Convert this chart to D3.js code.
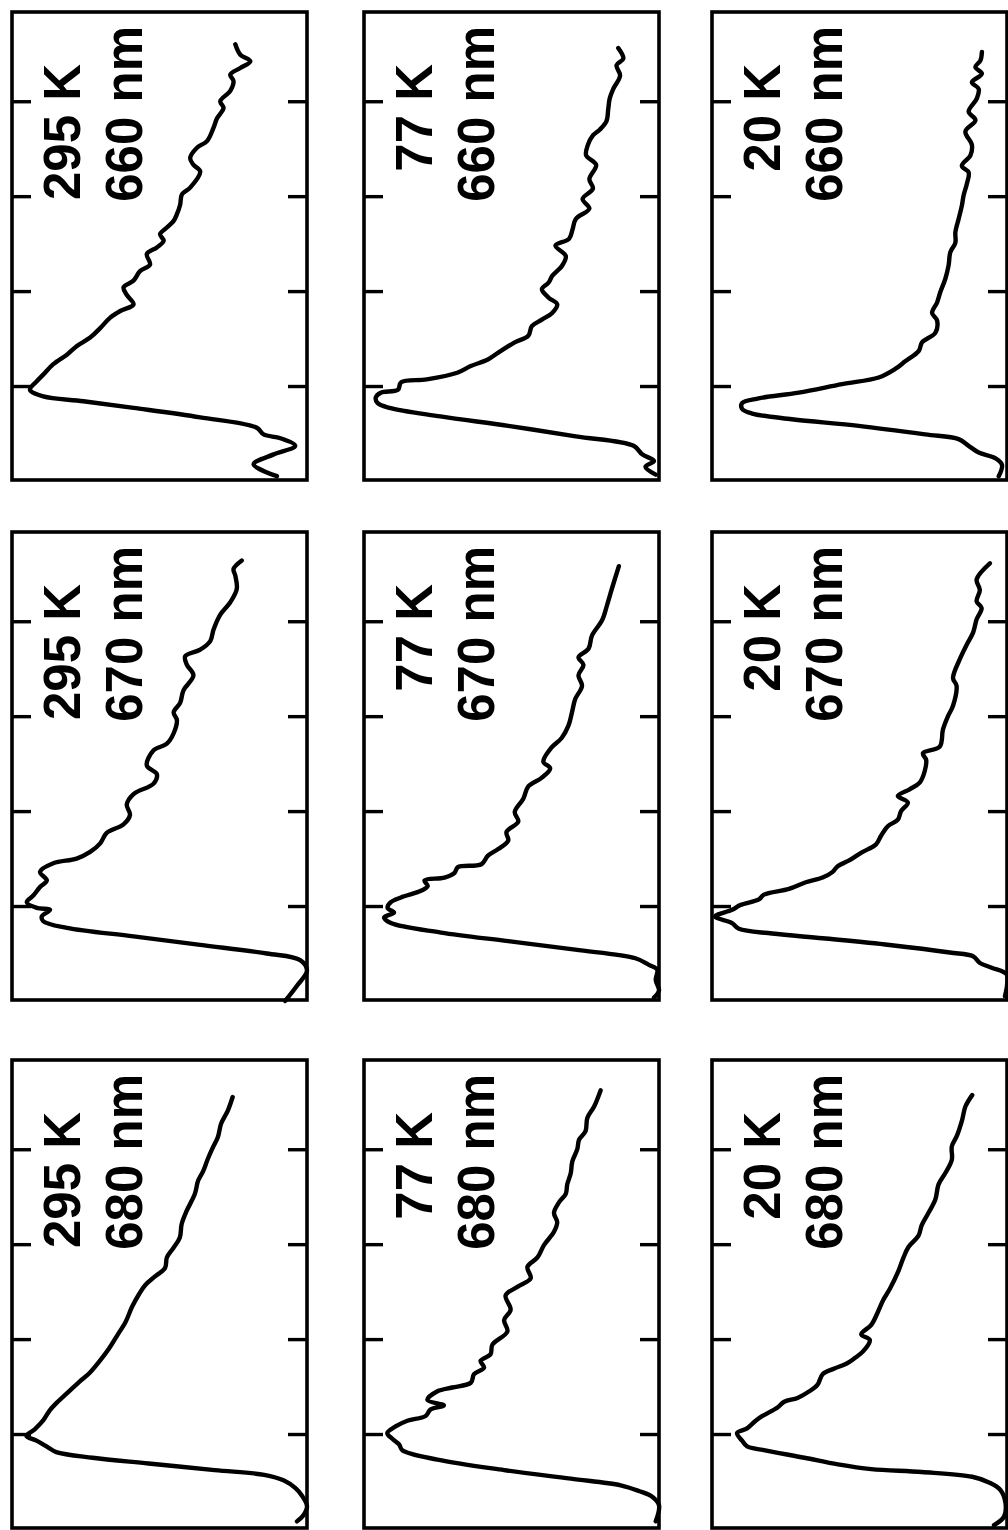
<!DOCTYPE html>
<html>
<head>
<meta charset="utf-8">
<script src="https://cdn.jsdelivr.net/npm/d3@7"></script>
<style>
	body { margin: 0; background: #fff; }
	svg { display: block; }
	.label { font-family: "Liberation Sans", Arial, sans-serif; font-weight: bold; font-size: 51px; }
</style>
</head>
<body>
<div id="vis"></div>
<script>
const width = 1008;
const height = 1530;

// columns = temperature, rows = detection wavelength
const temps = ["295 K", "77 K", "20 K"];
const waves = ["660 nm", "670 nm", "680 nm"];
const tickValues = [10, 20, 30, 40];

// traces: [time, intensity %]
const trace_295_660 = [[0.5,10.2],[1.75,18.1],[2.8,11.3],[3.7,4.0],[4.5,9.0],[4.9,14.7],[5.6,17.0],[6.7,36.2],[7.7,58.8],[8.4,75.8],[8.9,89.4],[9.6,93.9],[10.5,91.6],[11.2,89.4],[12.3,86.0],[13.3,81.4],[14.2,78.1],[15.1,73.5],[16.1,70.1],[17.2,66.7],[17.9,63.3],[18.6,58.8],[19.6,61.1],[20.4,62.2],[21.1,58.8],[22.1,56.6],[22.8,53.2],[23.9,54.3],[24.6,50.9],[25.3,48.6],[26.0,49.8],[26.7,47.5],[27.4,45.2],[28.1,44.1],[29.1,43.0],[30.2,42.4],[30.9,39.6],[32.6,36.2],[33.3,38.5],[34.0,39.6],[35.1,37.3],[35.8,33.9],[37.2,31.7],[38.2,30.5],[39.3,28.3],[40.0,29.4],[41.1,26.0],[42.1,24.9],[42.8,26.0],[43.5,22.6],[44.2,19.2],[44.9,22.6],[46.0,24.3]];
const trace_77_660 = [[0.67,1.1],[1.5,4.6],[2.1,1.7],[2.8,5.7],[3.7,8.6],[4.7,28.2],[5.8,51.1],[6.8,74.1],[7.7,91.4],[8.2,95.4],[8.8,96.0],[9.3,94.3],[9.6,88.5],[10.4,87.4],[10.7,78.7],[11.4,68.4],[12.1,63.8],[12.8,58.0],[13.5,54.6],[14.6,48.9],[15.3,44.3],[16.3,43.1],[17.0,39.7],[17.7,36.2],[18.6,34.5],[19.3,37.4],[20.2,39.7],[20.9,37.4],[21.6,36.2],[22.7,32.8],[23.7,31.6],[24.8,35.1],[25.5,30.5],[26.5,29.3],[27.6,28.2],[28.7,23.6],[29.7,25.9],[30.8,22.4],[31.8,23.6],[33.3,21.3],[34.3,24.7],[35.4,24.1],[36.4,22.4],[37.0,20.1],[37.9,17.8],[39.2,17.2],[40.3,16.7],[41.3,15.5],[42.7,13.2],[43.8,14.4],[44.5,12.1],[45.6,13.8]];
const trace_20_660 = [[0.5,2.8],[1.7,1.7],[2.4,4.0],[3.0,9.6],[3.7,13.0],[4.4,16.4],[4.9,27.7],[5.8,50.3],[6.5,72.9],[7.1,86.4],[7.6,89.8],[8.2,89.8],[8.7,84.2],[9.3,70.6],[10.2,55.9],[10.9,43.5],[11.8,37.9],[12.6,34.5],[13.7,29.9],[14.6,28.8],[15.6,24.3],[16.9,23.7],[17.7,25.4],[18.8,23.7],[19.9,22.6],[21.3,20.9],[22.7,19.8],[24.1,19.2],[25.1,17.5],[26.2,17.5],[27.6,16.4],[29.0,15.3],[30.1,14.7],[31.3,13.6],[32.5,13.0],[33.2,15.3],[34.3,12.4],[35.4,11.9],[36.8,14.1],[38.0,10.7],[38.9,13.0],[40.3,10.2],[41.3,9.6],[42.0,11.9],[42.9,8.5],[43.6,10.7],[44.3,9.0],[45.2,8.5]];
const trace_295_670 = [[0.0,7.4],[1.6,3.4],[3.2,0.0],[4.3,2.3],[5.0,13.6],[5.9,36.2],[6.8,58.8],[7.7,81.4],[8.4,89.4],[8.9,89.9],[9.6,87.1],[9.8,91.6],[10.4,95.0],[11.1,92.8],[12.0,90.5],[12.7,88.2],[13.6,90.5],[14.5,86.0],[15.0,78.1],[15.7,73.5],[16.6,70.1],[17.7,67.9],[18.6,62.2],[19.6,60.0],[20.7,61.1],[21.8,58.8],[22.9,52.0],[23.9,50.9],[24.8,54.3],[26.4,52.0],[27.1,47.5],[28.2,45.2],[29.6,44.1],[30.4,45.2],[31.4,43.0],[32.7,41.9],[34.3,38.5],[35.4,40.7],[36.3,41.3],[37.0,36.2],[37.9,32.8],[39.1,31.7],[40.7,29.4],[42.0,26.0],[43.4,23.8],[44.8,24.3],[45.5,24.9],[46.4,22.1]];
const trace_77_670 = [[0.35,1.7],[1.1,0.0],[2.2,1.1],[3.3,0.6],[3.8,3.4],[4.5,8.0],[5.4,28.4],[6.3,51.1],[7.2,73.9],[8.2,90.9],[8.8,93.2],[9.3,89.8],[9.8,92.0],[10.4,90.9],[10.9,87.5],[11.6,80.7],[12.1,78.4],[12.7,79.5],[13.0,72.7],[13.5,69.3],[14.1,68.2],[14.4,60.2],[15.3,58.0],[16.0,54.5],[16.9,51.1],[17.8,51.7],[18.9,47.7],[19.9,48.9],[21.3,46.0],[22.6,44.3],[23.5,39.8],[24.5,36.9],[25.2,39.2],[26.7,36.4],[27.7,33.0],[29.0,30.7],[30.4,29.5],[31.8,28.4],[33.2,26.1],[34.3,27.3],[35.4,25.6],[36.2,27.3],[37.1,23.9],[38.5,22.7],[40.1,19.3],[41.7,17.6],[43.5,15.9],[45.8,13.6]];
const trace_20_670 = [[0.5,0.7],[1.6,0.0],[2.8,0.1],[3.5,5.2],[4.0,9.2],[4.7,11.5],[5.1,19.4],[5.9,39.8],[6.6,62.5],[7.1,79.6],[7.6,90.9],[8.2,93.2],[8.9,98.9],[9.6,93.2],[10.1,90.4],[10.7,84.1],[11.2,82.4],[11.8,73.9],[12.5,68.2],[13.0,62.5],[13.6,59.1],[14.2,57.4],[14.8,53.5],[15.6,49.5],[16.5,44.4],[17.4,42.7],[18.4,40.4],[19.1,37.0],[20.0,35.9],[20.9,33.6],[21.6,37.0],[22.3,33.0],[23.0,29.6],[24.2,27.9],[25.4,27.4],[26.1,28.5],[26.8,22.8],[28.6,21.7],[30.0,20.0],[31.1,18.3],[33.2,17.1],[34.0,18.3],[36.0,16.0],[37.5,13.7],[38.8,11.5],[40.2,10.3],[41.4,8.6],[42.1,10.3],[43.3,9.2],[44.4,10.3],[46.1,5.8]];
const trace_295_680 = [[0.8,3.4],[1.5,1.1],[2.4,0.0],[3.5,1.7],[4.3,3.9],[5.1,7.8],[5.7,14.5],[6.2,31.3],[6.9,53.7],[7.5,72.7],[8.1,85.0],[8.6,87.8],[9.3,91.7],[9.8,95.1],[10.5,92.3],[11.4,89.5],[12.5,87.2],[13.4,84.5],[14.2,81.7],[15.5,77.2],[16.4,73.8],[17.6,70.5],[19.0,67.1],[20.4,64.3],[21.8,61.5],[23.4,59.3],[24.7,57.0],[25.7,54.8],[26.6,51.5],[27.5,48.1],[28.6,47.5],[29.6,45.3],[30.7,43.1],[32.1,42.5],[33.5,40.8],[35.3,38.0],[36.7,36.9],[37.7,35.2],[39.0,33.6],[40.2,31.9],[41.3,30.2],[42.7,29.1],[44.1,26.8],[45.5,25.2]];
const trace_77_680 = [[0.8,1.1],[2.5,0.0],[3.4,2.3],[4.0,6.8],[4.6,13.0],[5.3,29.9],[6.2,52.5],[7.3,75.1],[8.3,87.0],[8.9,88.1],[9.5,90.4],[10.1,92.1],[10.8,89.3],[11.4,85.3],[11.9,79.1],[12.6,77.4],[13.0,72.9],[13.6,78.5],[14.5,75.1],[14.9,70.1],[15.4,63.8],[16.3,62.7],[17.0,59.3],[17.7,60.5],[18.4,57.1],[19.4,56.5],[20.8,51.4],[22.0,52.5],[23.1,50.3],[24.6,52.0],[25.5,48.0],[26.4,43.5],[27.6,44.6],[28.6,41.2],[29.9,39.0],[31.3,35.6],[32.3,34.5],[33.3,35.6],[34.4,33.9],[35.3,31.6],[36.3,31.1],[37.5,29.9],[38.7,29.4],[40.0,27.7],[41.0,27.1],[41.9,24.9],[43.3,24.3],[44.5,22.0],[46.2,19.8]];
const trace_20_680 = [[0.4,4.4],[1.3,1.0],[2.7,0.5],[4.1,2.2],[4.9,6.1],[5.5,11.8],[6.0,28.9],[6.3,46.0],[6.8,57.3],[7.5,68.7],[8.3,82.4],[8.7,88.1],[9.3,89.8],[10.1,91.5],[10.6,88.1],[11.4,85.2],[11.9,82.9],[12.8,77.8],[13.4,75.5],[13.8,71.0],[14.5,67.0],[15.2,64.2],[16.3,62.5],[16.9,58.5],[17.4,54.5],[18.0,51.6],[18.7,48.8],[19.9,46.5],[20.5,49.4],[21.5,46.0],[22.9,43.7],[24.1,42.0],[25.3,39.7],[27.1,36.9],[28.5,35.2],[29.7,33.4],[30.9,30.0],[32.0,28.9],[33.3,26.6],[34.7,24.3],[36.3,23.2],[37.5,20.9],[38.9,18.7],[40.3,18.7],[41.4,17.0],[43.1,15.2],[44.5,14.1],[45.7,11.8]];

const traces = [
	[trace_295_660, trace_77_660, trace_20_660],
	[trace_295_670, trace_77_670, trace_20_670],
	[trace_295_680, trace_77_680, trace_20_680]
];

// layout
const colLeft = [12, 364, 712];
const rowTop = [12, 532, 1060];
const panelW = 295;
const panelH = 468;
const tickLen = 19;

const svg = d3.select("#vis")
	.append("svg")
		.attr("width", width)
		.attr("height", height);

waves.forEach((wave, r) => {
	temps.forEach((temp, c) => {
		const left = colLeft[c];
		const top = rowTop[r];

		// time runs bottom -> top, intensity grows to the left (figure is turned)
		const y = d3.scaleLinear()
			.domain([0.1, 49.4])
			.range([top + panelH, top]);
		const x = d3.scaleLinear()
			.domain([0, 100])
			.range([left + panelW, left]);

		const g = svg.append("g");

		g.append("rect")
			.attr("x", left)
			.attr("y", top)
			.attr("width", panelW)
			.attr("height", panelH)
			.attr("fill", "none")
			.attr("stroke", "#000")
			.attr("stroke-width", 3.6);

		const leftAxis = g.append("g")
			.attr("transform", `translate(${left},0)`)
			.call(d3.axisLeft(y).tickValues(tickValues).tickSize(-tickLen).tickSizeOuter(0).tickFormat(""));
		const rightAxis = g.append("g")
			.attr("transform", `translate(${left + panelW},0)`)
			.call(d3.axisRight(y).tickValues(tickValues).tickSize(-tickLen).tickSizeOuter(0).tickFormat(""));

		[leftAxis, rightAxis].forEach(a => {
			a.select(".domain").remove();
			a.selectAll("line")
				.attr("stroke", "#000")
				.attr("stroke-width", 3.4);
		});

		const line = d3.line()
			.x(d => x(d[1]))
			.y(d => y(d[0]))
			.curve(d3.curveCatmullRom.alpha(0.5));

		g.append("path")
			.datum(traces[r][c])
			.attr("d", line)
			.attr("fill", "none")
			.attr("stroke", "#000")
			.attr("stroke-width", 4.4)
			.attr("stroke-linejoin", "round")
			.attr("stroke-linecap", "round");

		g.append("text")
			.classed("label", true)
			.attr("transform", `translate(${left + 68},${top + 52}) rotate(-90)`)
			.attr("text-anchor", "end")
			.text(temp);

		g.append("text")
			.classed("label", true)
			.attr("transform", `translate(${left + 130},${top + 14}) rotate(-90)`)
			.attr("text-anchor", "end")
			.text(wave);
	});
});
</script>
</body>
</html>
